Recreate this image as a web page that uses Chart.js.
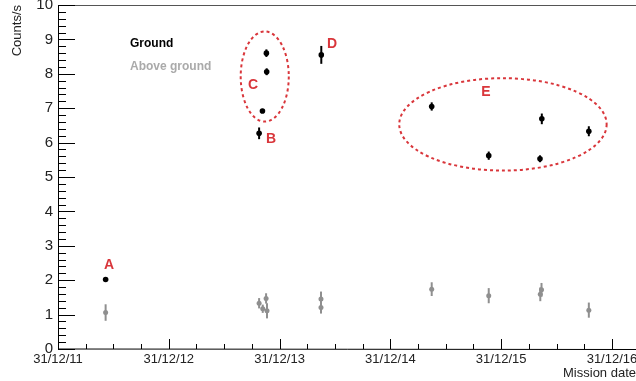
<!DOCTYPE html>
<html>
<head>
<meta charset="utf-8">
<script src="https://cdn.jsdelivr.net/npm/chart.js@4"></script>
<style>
  html, body { margin: 0; padding: 0; background: #fff; overflow: hidden; }
  #wrap { width: 680px; height: 381px; }
</style>
</head>
<body>
<div id="wrap"><canvas id="chartCounts" width="680" height="381"></canvas></div>
<script>
// x tick labels (one per year boundary)
const xTickLabels = ["31/12/11", "31/12/12", "31/12/13", "31/12/14", "31/12/15", "31/12/16"];

// Ground measurements
const groundDates = ["2012-06-05", "2013-10-24", "2013-11-04", "2013-11-18", "2013-11-17", "2014-05-17",
  "2015-05-16", "2015-11-20", "2016-05-13", "2016-05-07", "2016-10-15"];
const groundRates = [2.02, 6.27, 6.92, 8.06, 8.60, 8.55, 7.05, 5.62, 6.69, 5.53, 6.33];
const groundErrors = [0.03, 0.17, 0.06, 0.10, 0.11, 0.26, 0.12, 0.12, 0.155, 0.10, 0.145];

// Above ground measurements
const aboveDates = ["2012-06-05", "2013-10-24", "2013-11-05", "2013-11-16", "2013-11-19", "2014-05-16",
  "2014-05-16", "2015-05-16", "2015-11-20", "2016-05-08", "2016-05-12", "2016-10-15"];
const aboveRates = [1.06, 1.33, 1.17, 1.47, 1.11, 1.45, 1.21, 1.74, 1.55, 1.59, 1.72, 1.13];
const aboveErrors = [0.24, 0.15, 0.12, 0.15, 0.22, 0.22, 0.18, 0.20, 0.22, 0.20, 0.20, 0.22];

// annotations (data units: years since 31/12/11, counts/s)
const groupLabels = ["A", "B", "C", "D", "E"];
const groupLabelX = [0.46, 1.922, 1.76, 2.473, 3.863];
const groupLabelY = [2.44, 6.10, 7.67, 8.87, 7.46];
const ellipseCx = [1.866, 4.016];
const ellipseCy = [7.92, 6.53];
const ellipseRx = [0.217, 0.936];
const ellipseRy = [1.31, 1.343];

const origin = Date.UTC(2011, 11, 31);
const yearMs = 365.25 * 24 * 3600 * 1000;
function toYears(s) {
  return (Date.parse(s) - origin) / yearMs;
}
function points(dates, rates, errs) {
  return dates.map((d, i) => ({ x: toYears(d), y: rates[i], e: errs[i] }));
}

Chart.defaults.font.family = "'Liberation Sans', Arial, sans-serif";

const overlay = {
  id: "overlay",
  beforeDatasetsDraw(chart) {
    const { ctx } = chart;
    const x = chart.scales.x, y = chart.scales.y;
    chart.data.datasets.forEach((ds) => {
      ctx.save();
      ctx.strokeStyle = ds.borderColor;
      ctx.lineWidth = 2;
      ds.data.forEach((p) => {
        const px = x.getPixelForValue(p.x);
        ctx.beginPath();
        ctx.moveTo(px, y.getPixelForValue(p.y - p.e));
        ctx.lineTo(px, y.getPixelForValue(p.y + p.e));
        ctx.stroke();
      });
      ctx.restore();
    });
  },
  afterDraw(chart) {
    const { ctx, chartArea } = chart;
    const x = chart.scales.x, y = chart.scales.y;
    ctx.save();
    // frame
    ctx.strokeStyle = "#555";
    ctx.lineWidth = 1;
    ctx.beginPath();
    ctx.moveTo(chartArea.left, chartArea.top + 0.5);
    ctx.lineTo(chartArea.right, chartArea.top + 0.5);
    ctx.stroke();
    ctx.strokeStyle = "#000";
    ctx.beginPath();
    ctx.moveTo(chartArea.left + 0.5, chartArea.top);
    ctx.lineTo(chartArea.left + 0.5, chartArea.bottom);
    ctx.lineTo(chartArea.right, chartArea.bottom + 0.5);
    ctx.stroke();
    // y ticks (inside)
    for (let i = 0; i <= 50; i++) {
      const py = Math.round(y.getPixelForValue(i * 0.2)) + 0.5;
      const len = i % 5 === 0 ? 17 : 8;
      ctx.beginPath();
      ctx.moveTo(chartArea.left, py);
      ctx.lineTo(chartArea.left + len, py);
      ctx.stroke();
    }
    // x ticks (inside)
    for (let i = 0; i <= 20; i++) {
      const px = Math.round(x.getPixelForValue(i * 0.25)) + 0.5;
      const len = i % 4 === 0 ? 10 : 5;
      ctx.beginPath();
      ctx.moveTo(px, chartArea.bottom);
      ctx.lineTo(px, chartArea.bottom - len);
      ctx.stroke();
    }
    // ellipses
    ctx.strokeStyle = "#d9363b";
    ctx.lineWidth = 2;
    ctx.setLineDash([3, 3]);
    ellipseCx.forEach((cx, i) => {
      const px = x.getPixelForValue(cx);
      const py = y.getPixelForValue(ellipseCy[i]);
      const rx = x.getPixelForValue(cx + ellipseRx[i]) - px;
      const ry = py - y.getPixelForValue(ellipseCy[i] + ellipseRy[i]);
      ctx.beginPath();
      ctx.ellipse(px, py, rx, ry, 0, 0, Math.PI * 2);
      ctx.stroke();
    });
    ctx.setLineDash([]);
    // group labels
    ctx.fillStyle = "#d9363b";
    ctx.font = "bold 14px 'Liberation Sans', Arial, sans-serif";
    ctx.textAlign = "center";
    ctx.textBaseline = "middle";
    groupLabels.forEach((t, i) => {
      ctx.fillText(t, x.getPixelForValue(groupLabelX[i]), y.getPixelForValue(groupLabelY[i]));
    });
    // legend
    ctx.font = "bold 12px 'Liberation Sans', Arial, sans-serif";
    ctx.textAlign = "left";
    ctx.fillStyle = "#000";
    ctx.fillText("Ground", x.getPixelForValue(0.65), y.getPixelForValue(8.87));
    ctx.fillStyle = "#aaa";
    ctx.fillText("Above ground", x.getPixelForValue(0.65), y.getPixelForValue(8.2));
    ctx.restore();
  },
};

const ctx = document.getElementById("chartCounts");
const chart = new Chart(ctx, {
  type: "scatter",
  data: {
    datasets: [
      {
        label: "Ground",
        data: points(groundDates, groundRates, groundErrors),
        backgroundColor: "#000",
        borderColor: "#000",
        pointRadius: 2.8,
        pointBorderWidth: 0,
      },
      {
        label: "Above ground",
        data: points(aboveDates, aboveRates, aboveErrors),
        backgroundColor: "#8f8f8f",
        borderColor: "#8f8f8f",
        pointRadius: 2.5,
        pointBorderWidth: 0,
      },
    ],
  },
  options: {
    responsive: false,
    animation: false,
    layout: { padding: { left: 0, top: 5, right: 44, bottom: 0 } },
    plugins: { legend: { display: false }, tooltip: { enabled: false } },
    scales: {
      x: {
        type: "linear",
        min: 0,
        max: 5.217,
        grid: { display: false, drawTicks: false },
        border: { display: false },
        ticks: {
          stepSize: 1,
          includeBounds: false,
          autoSkip: false,
          maxRotation: 0,
          padding: 3,
          color: "#222",
          font: { size: 13 },
          callback: (v) => (Number.isInteger(v) ? xTickLabels[v] : ""),
        },
        title: {
          display: true,
          text: "Mission date",
          align: "end",
          color: "#222",
          font: { size: 13 },
          padding: { top: 0, bottom: 0 },
        },
        afterFit: (s) => { s.height = 32; s.paddingLeft = 0; s.paddingRight = 0; },
      },
      y: {
        min: 0,
        max: 10,
        grid: { display: false, drawTicks: false },
        border: { display: false },
        ticks: { stepSize: 1, padding: 5, color: "#222", font: { size: 15 } },
        title: {
          display: true,
          text: "Counts/s",
          align: "end",
          color: "#222",
          font: { size: 13 },
          padding: { top: 10, bottom: 0 },
        },
        afterFit: (s) => { s.width = 58; s.paddingTop = 0; s.paddingBottom = 0; },
      },
    },
  },
  plugins: [overlay],
});
</script>
</body>
</html>
